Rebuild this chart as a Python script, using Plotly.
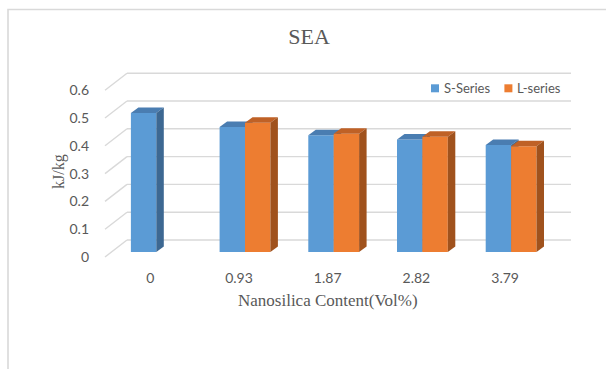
import plotly.graph_objects as go

# ---- data ----
categories = ["0", "0.93", "1.87", "2.82", "3.79"]
s_series = [0.50, 0.45, 0.42, 0.405, 0.385]
l_series = [None, 0.465, 0.425, 0.415, 0.38]
series_names = ["S-Series", "L-series"]
y_ticks = [0, 0.1, 0.2, 0.3, 0.4, 0.5, 0.6]
y_tick_text = ["0", "0.1", "0.2", "0.3", "0.4", "0.5", "0.6"]

# ---- layout geometry (pixels) ----
W, H = 606, 369
PL, PR, PT, PB = 100, 575, 68, 260          # plot area
PX_PER_X = 88.7                              # pixels per category step
PX_PER_Y = 278.0                             # pixels per 1.0 of value
X0_PX = 156.3                                # pixel of category 0 centre
Y0_PX = 252.0                                # pixel of value 0 on the bar plane

x_range = [(PL - X0_PX) / PX_PER_X, (PR - X0_PX) / PX_PER_X]
y_range = [-(PB - Y0_PX) / PX_PER_Y, (Y0_PX - PT) / PX_PER_Y]

def dx(px):
    return px / PX_PER_X

def dy(px):
    return px / PX_PER_Y

def paper_x(px):
    return (px - PL) / (PR - PL)

def paper_y(py):
    return (PB - py) / (PB - PT)

BAR_W = dx(25.4)
DEPTH_X, DEPTH_Y = dx(7.5), dy(5.5)

TEXT = "#595959"
GRID = "#D9D9D9"
SANS = "Lato"
SERIF = "Liberation Serif"

colors = {
    "S-Series": ("#5B9BD5", "#4A7DB1", "#3D6892"),
    "L-series": ("#ED7D31", "#BF6126", "#A0521D"),
}

fig = go.Figure()

# back wall gridlines and floor-side diagonals
back_left, back_right, front_left = dx(127 - X0_PX), dx(571 - X0_PX), dx(105 - X0_PX)
gx, gy, diag_x, diag_y = [], [], [], []
for v in y_ticks:
    gx += [back_left, back_right, None]
    gy += [v + dy(12), v + dy(12), None]
    diag_x += [front_left, back_left, None]
    diag_y += [v - dy(5), v + dy(12), None]
for xs, ys in ((gx, gy), (diag_x, diag_y)):
    fig.add_trace(go.Scatter(x=xs, y=ys, mode="lines", line=dict(color=GRID, width=1.4),
                             hoverinfo="skip", showlegend=False))


def add_box(x0, x1, v, name):
    front, top, side = colors[name]
    faces = [
        ([x0, x1, x1, x0, x0], [0, 0, v, v, 0], front),
        ([x0, x1, x1 + DEPTH_X, x0 + DEPTH_X, x0], [v, v, v + DEPTH_Y, v + DEPTH_Y, v], top),
        ([x1, x1 + DEPTH_X, x1 + DEPTH_X, x1, x1], [0, DEPTH_Y, v + DEPTH_Y, v, 0], side),
    ]
    for xs, ys, c in faces:
        fig.add_trace(go.Scatter(x=xs, y=ys, mode="lines", fill="toself", fillcolor=c,
                                 line=dict(width=0, color=c), name=name,
                                 hoverinfo="skip", showlegend=False))


for i, cat in enumerate(categories):
    if s_series[i] is not None:
        add_box(i - BAR_W, i, s_series[i], series_names[0])
    if l_series[i] is not None:
        add_box(i, i + BAR_W, l_series[i], series_names[1])

shapes = [
    # chart frame
    dict(type="path", xref="paper", yref="paper",
         path=f"M {paper_x(8)} {paper_y(372)} L {paper_x(8)} {paper_y(9.5)} L {paper_x(612)} {paper_y(9.5)}",
         line=dict(color=GRID, width=1.6)),
]
annotations = [
    dict(text="kJ/kg", textangle=-90, xref="paper", yref="paper", x=paper_x(59), y=paper_y(172),
         xanchor="center", yanchor="middle",
         showarrow=False, font=dict(family=SERIF, size=16, color=TEXT)),
    dict(text="Nanosilica Content(Vol%)", xref="paper", yref="paper", x=paper_x(328), y=paper_y(300),
         xanchor="center", yanchor="middle",
         showarrow=False, font=dict(family=SERIF, size=17, color=TEXT)),
]

# legend
for name, sq_left in zip(series_names, (431, 504.4)):
    shapes.append(dict(type="rect", xref="paper", yref="paper",
                       x0=paper_x(sq_left), x1=paper_x(sq_left + 8),
                       y0=paper_y(92.3), y1=paper_y(84.3),
                       fillcolor=colors[name][0], line=dict(width=0)))
    annotations.append(dict(text=name, xref="paper", yref="paper", x=paper_x(sq_left + 10.5),
                            y=paper_y(88.3), xanchor="left", yanchor="middle", showarrow=False,
                            font=dict(family=SANS, size=13, color=TEXT)))

fig.update_layout(
    width=W, height=H,
    margin=dict(l=PL, r=W - PR, t=PT, b=H - PB, pad=0),
    paper_bgcolor="white", plot_bgcolor="white",
    title=dict(text="SEA", xref="container", yref="container", x=309 / W, y=1 - 36 / H,
               xanchor="center", yanchor="middle",
               font=dict(family=SERIF, size=22, color=TEXT)),
    xaxis=dict(range=x_range, showgrid=False, zeroline=False, showline=False,
               tickmode="array", tickvals=list(range(len(categories))), ticktext=categories,
               ticklabelshift=-6, ticklabelstandoff=8,
               tickfont=dict(family=SANS, size=14, color=TEXT), fixedrange=True),
    yaxis=dict(range=y_range, showgrid=False, zeroline=False, showline=False,
               tickmode="array", tickvals=y_ticks, ticktext=y_tick_text,
               ticklabelshift=5, ticklabelstandoff=10,
               tickfont=dict(family=SANS, size=14, color=TEXT), fixedrange=True),
    shapes=shapes, annotations=annotations,
    showlegend=False,
)

fig.write_html("out.html")
